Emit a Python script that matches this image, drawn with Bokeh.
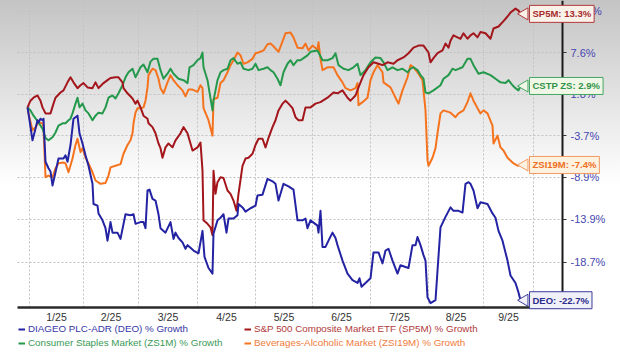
import math
from bokeh.plotting import figure
from bokeh.models import FixedTicker, Legend, LegendItem, Label, Range1d
from bokeh.embed import file_html
from bokeh.resources import INLINE

# x: chart time units (about 2.7 units per trading session); month boundaries
month_bounds = [0, 54, 109, 168, 226, 283, 341, 399, 454, 504]
month_labels = ["1/25", "2/25", "3/25", "4/25", "5/25", "6/25", "7/25", "8/25", "9/25"]
y_tick_pct = [-18.7, -13.9, -8.9, -3.7, 1.8, 7.6, 13.7]

# (time, % growth)
deo_pts = [(-2,0.0),(-1,-0.8),(3,-4.3),(6,-2.8),(8,-1.7),(9,-2.0),(11,-1.5),(13,-1.7),(14,-1.5),
    (16,-7.0),(19,-7.8),(21,-8.2),(23,-9.9),(26,-8.3),(29,-6.6),(34,-6.6),(36,-6.2),(38,-7.0),
    (41,-4.9),(44,-1.5),(48,-1.1),(50,-3.4),(53,-4.7),(56,-6.2),(59,-7.5),(63,-9.7),(64,-12.1),
    (68,-12.3),(69,-13.2),(73,-14.0),(76,-14.9),(78,-16.3),(81,-14.2),(83,-15.4),(88,-15.4),
    (91,-16.1),(96,-13.3),(101,-13.4),(104,-13.3),(106,-14.4),(111,-14.2),(114,-14.2),(116,-14.9),
    (118,-10.5),(120,-10.4),(123,-11.5),(126,-11.7),(129,-13.3),(131,-14.9),(136,-15.4),(141,-14.2),
    (144,-16.1),(146,-15.4),(149,-16.0),(153,-16.5),(156,-17.2),(158,-16.8),(161,-17.1),(164,-17.4),
    (169,-17.7),(173,-15.2),(175,-18.1),(179,-19.3),(183,-19.9),(184,-15.5),(188,-14.0),(191,-13.7),
    (194,-13.3),(197,-15.4),(199,-13.8),(204,-13.8),(208,-13.4),(209,-12.1),(213,-12.5),(216,-13.0),
    (221,-12.6),(226,-12.3),(228,-11.1),(233,-11.0),(238,-9.1),(243,-9.4),(246,-9.7),(249,-11.7),
    (254,-9.7),(259,-10.0),(264,-10.4),(268,-14.0),(273,-14.0),(276,-13.8),(278,-14.9),(281,-14.0),
    (288,-14.6),(289,-15.4),(291,-12.9),(293,-17.0),(296,-17.0),(299,-16.3),(303,-15.4),(306,-16.0),
    (308,-16.8),(313,-18.5),(318,-19.9),(323,-20.6),(328,-20.9),(330,-20.4),(332,-21.3),(336,-20.9),
    (341,-20.4),(344,-17.6),(349,-17.6),(353,-18.8),(356,-17.4),(359,-17.2),(363,-18.5),(368,-19.9),
    (371,-19.0),(376,-19.2),(379,-19.3),(383,-16.8),(386,-16.8),(388,-15.9),(391,-16.8),(394,-17.9),
    (396,-18.5),(398,-22.4),(401,-23.0),(406,-22.7),(408,-19.6),(411,-14.8),(416,-13.6),(421,-12.5),
    (424,-12.9),(429,-12.9),(433,-13.1),(436,-9.7),(439,-9.5),(441,-9.7),(444,-10.5),(448,-12.6),
    (451,-11.9),(458,-12.1),(463,-13.2),(466,-13.7),(469,-15.2),(473,-16.3),(478,-18.5),(481,-20.1),
    (486,-20.9),(489,-21.9),(491,-22.7)]

sp5m_pts = [(-2,0.0),(1,0.9),(4,1.3),(8,1.6),(11,0.9),(13,0.0),(16,-0.8),(21,-0.8),(24,0.5),(26,1.3),
    (31,2.0),(34,2.3),(38,3.4),(41,4.1),(44,3.4),(48,2.6),(51,3.0),(54,3.3),(58,2.7),(63,2.6),(66,3.4),
    (69,2.6),(74,3.3),(78,3.7),(81,4.0),(86,4.1),(89,4.1),(93,3.4),(94,2.6),(98,1.9),(103,1.2),(106,0.5),
    (108,0.9),(111,0.0),(114,-1.1),(118,-1.5),(119,-2.1),(123,-2.6),(126,-3.4),(129,-4.7),(131,-5.3),
    (133,-6.5),(136,-5.2),(139,-4.7),(143,-5.2),(146,-4.3),(151,-3.4),(154,-2.6),(158,-3.4),(163,-5.6),
    (168,-5.2),(171,-4.6),(173,-8.1),(174,-14.0),(178,-14.4),(181,-14.8),(183,-15.7),(184,-8.1),
    (186,-10.9),(188,-9.5),(191,-8.9),(194,-9.0),(198,-10.5),(201,-10.9),(204,-11.7),(207,-12.9),
    (209,-10.9),(213,-7.5),(216,-6.6),(219,-6.5),(223,-6.0),(226,-4.9),(229,-4.1),(233,-4.1),(236,-5.2),
    (239,-4.0),(243,-2.6),(246,-1.7),(249,-0.4),(253,0.5),(256,0.9),(259,0.5),(263,-0.1),(266,-1.3),
    (269,-1.7),(273,-1.7),(276,0.0),(281,0.0),(286,0.5),(291,0.7),(298,1.3),(304,2.0),(308,1.9),
    (313,2.3),(318,1.3),(321,0.9),(326,1.6),(329,2.7),(334,4.4),(339,5.5),(344,6.2),(349,6.0),(353,5.8),
    (358,6.2),(364,6.0),(368,6.5),(374,6.9),(379,7.5),(384,8.3),(389,8.6),(394,8.6),(399,7.6),(401,6.2),
    (404,6.8),(408,7.5),(413,7.9),(416,8.9),(419,8.3),(421,9.3),(424,10.1),(428,9.8),(431,9.6),
    (434,10.4),(438,9.6),(441,10.1),(444,10.4),(448,9.8),(451,10.6),(456,10.4),(461,9.6),(464,11.1),
    (469,11.4),(474,12.2),(478,12.9),(481,13.5),(486,14.1),(489,13.8),(491,13.3)]

cstp_pts = [(-2,0.0),(1,-0.4),(4,-1.1),(9,-2.0),(13,-2.8),(16,-4.0),(19,-4.3),(23,-3.9),(26,-3.3),
    (29,-2.4),(33,-2.1),(36,-2.1),(39,-1.7),(41,-1.5),(43,-0.8),(46,0.5),(48,1.3),(50,0.0),(53,0.5),
    (56,-0.4),(59,-0.8),(63,-1.7),(66,-1.1),(69,-0.7),(73,-0.8),(76,0.0),(79,1.3),(83,1.6),(86,1.2),
    (89,1.9),(93,3.0),(96,4.1),(99,4.8),(103,5.3),(106,4.1),(111,5.5),(114,5.9),(118,4.8),(121,6.3),
    (124,6.7),(128,6.7),(131,5.1),(134,3.9),(138,4.6),(141,5.3),(144,4.6),(149,3.9),(154,3.7),(158,3.3),
    (160,5.5),(164,5.8),(168,6.5),(171,6.8),(173,7.6),(174,5.5),(178,3.7),(183,-0.4),(184,0.9),(188,3.7),
    (191,4.8),(194,5.1),(198,5.3),(201,6.5),(204,6.8),(208,6.0),(211,6.2),(214,5.3),(219,5.1),(223,5.3),
    (226,6.0),(229,5.1),(234,5.3),(238,5.5),(241,5.1),(244,4.8),(248,3.9),(251,3.0),(254,4.8),(258,6.0),
    (261,6.5),(264,5.8),(268,6.5),(271,6.5),(274,6.8),(278,7.2),(281,7.7),(288,7.9),(293,6.5),(298,6.5),
    (303,6.8),(306,7.5),(309,5.8),(314,5.3),(319,5.1),(324,5.5),(328,6.0),(331,4.4),(336,5.1),(341,6.2),
    (346,6.9),(351,6.8),(354,6.2),(358,5.1),(363,5.5),(368,5.1),(373,5.3),(378,4.8),(381,5.3),(384,5.5),
    (388,5.1),(391,4.4),(394,3.9),(396,2.0),(399,1.9),(404,2.3),(411,3.0),(414,3.9),(419,4.4),(423,5.3),
    (426,5.1),(433,5.5),(438,6.7),(441,6.7),(444,5.8),(449,4.6),(454,4.8),(461,4.4),(466,3.9),(471,3.4),
    (476,3.3),(479,3.7),(483,3.0),(486,2.6),(489,2.3),(491,2.9)]

zsi19m_pts = [(-2,0.0),(-1,-0.8),(3,-3.0),(6,-2.6),(9,-2.0),(13,-2.1),(14,-2.6),(16,-8.9),(19,-8.7),
    (23,-8.9),(26,-7.8),(29,-7.2),(34,-7.1),(36,-7.2),(39,-8.3),(43,-6.6),(46,-4.9),(48,-4.1),(51,-5.8),
    (53,-5.3),(56,-6.5),(59,-7.2),(63,-8.3),(66,-9.3),(71,-9.7),(76,-9.6),(79,-8.7),(81,-7.7),(86,-7.5),
    (91,-7.3),(94,-6.0),(98,-4.9),(101,-4.3),(103,-3.4),(104,-2.1),(106,-0.7),(108,-0.1),(111,-0.1),
    (114,0.0),(116,0.9),(118,2.7),(119,4.4),(123,5.3),(126,5.1),(129,3.9),(131,2.6),(134,1.9),(138,3.4),
    (141,4.4),(144,3.7),(148,3.0),(153,2.3),(156,1.5),(159,2.4),(163,2.4),(168,2.1),(171,3.0),(173,2.6),
    (174,-0.1),(179,-1.7),(183,-3.7),(184,1.1),(188,1.3),(191,3.3),(194,3.7),(198,4.8),(201,5.8),
    (204,6.5),(208,7.6),(211,7.2),(214,6.0),(218,6.2),(223,6.7),(226,7.5),(229,7.6),(234,7.9),(238,8.8),
    (241,8.9),(244,8.5),(249,7.7),(253,9.2),(256,10.4),(261,10.5),(264,9.8),(268,8.3),(273,8.2),
    (276,8.9),(279,7.9),(283,8.6),(288,8.0),(289,9.1),(291,6.7),(293,5.1),(298,5.5),(304,5.5),(308,4.4),
    (313,3.4),(316,2.6),(321,2.3),(326,2.6),(328,3.3),(329,0.3),(333,0.7),(338,1.3),(341,3.7),(344,4.8),
    (348,5.8),(353,4.8),(354,3.4),(361,2.7),(366,1.3),(369,0.5),(373,2.3),(378,4.1),(381,5.8),(384,5.5),
    (389,4.6),(393,3.7),(396,-0.4),(398,-6.8),(399,-7.5),(403,-6.5),(406,-5.3),(408,-3.4),(411,-0.8),
    (414,-0.4),(421,-0.7),(426,-1.3),(429,-0.8),(434,-0.4),(438,0.7),(441,1.9),(444,0.9),(448,-0.1),
    (451,-0.8),(454,-0.4),(458,-0.8),(463,-2.4),(464,-4.7),(468,-3.7),(471,-5.2),(474,-5.6),(478,-6.5),
    (483,-7.1),(488,-7.5),(491,-7.4)]

# name, tag, line colour, legend text colour, tag fill, tag border, tag text colour, points
series = [
    ("Beverages-Alcoholic Market (ZSI19M) % Growth", "ZSI19M", "#f6731e", "#f07b3c", "#fdf1df", "#f39a63", "#ee6f22", zsi19m_pts),
    ("Consumer Staples Market (ZS1M) % Growth", "CSTP ZS", "#25994b", "#3a9a55", "#f1f7e6", "#43a862", "#2f9249", cstp_pts),
    ("S&P 500 Composite Market ETF (SP5M) % Growth", "SP5M", "#a3161c", "#b03a3a", "#faf1e8", "#b3383a", "#a82a2c", sp5m_pts),
    ("DIAGEO PLC-ADR (DEO) % Growth", "DEO", "#2323a3", "#3535a5", "#f0f0f9", "#3d3d9c", "#2c2c8c", deo_pts),
]

def factor(g):
    return 1.0 + g / 100.0

# visible chart window: time -12..533, growth factor 0.7655..1.1534 (log scale)
t_lo, t_hi = -12, 533
f_lo, f_hi = 0.7655, 1.1534

p = figure(width=620, height=356, output_backend="svg", toolbar_location=None,
           y_axis_type="log", y_axis_location="right",
           x_range=Range1d(-29, 591), y_range=Range1d(0.71705, f_hi),
           min_border=0, min_border_left=0, min_border_right=0,
           min_border_top=0, min_border_bottom=0)
p.border_fill_color = None
p.background_fill_color = None
p.outline_line_color = None
p.styles = {"background": "linear-gradient(to bottom, #c4c4c4 0px, #ffffff 185px)"}

# grids
p.xgrid.ticker = FixedTicker(ticks=month_bounds)
y_ticks = [round(factor(v), 6) for v in y_tick_pct]
p.ygrid.ticker = FixedTicker(ticks=y_ticks)
for g in (p.xgrid, p.ygrid):
    g.grid_line_color = "#c2c2c2"
    g.grid_line_dash = "2 2"
    g.grid_line_width = 1
for g in p.xgrid:
    if "cross_bounds" in g.properties():
        g.cross_bounds = (f_lo, f_hi)
for g in p.ygrid:
    if "cross_bounds" in g.properties():
        g.cross_bounds = (t_lo, t_hi)

# x axis
mids = [(month_bounds[i] + month_bounds[i + 1]) / 2 for i in range(len(month_labels))]
p.xaxis.fixed_location = f_lo
p.xaxis.bounds = (t_lo, t_hi)
p.xaxis.ticker = FixedTicker(ticks=mids)
p.xaxis.major_label_overrides = {m: lab for m, lab in zip(mids, month_labels)}
p.xaxis.major_tick_line_color = None
p.xaxis.minor_tick_line_color = None
p.xaxis.major_tick_out = 0
p.xaxis.major_label_standoff = 3
p.xaxis.axis_line_color = "#2a2a2a"
p.xaxis.axis_line_width = 2.5
p.xaxis.major_label_text_font = "Liberation Sans"
p.xaxis.major_label_text_font_size = "10.5px"
p.xaxis.major_label_text_color = "#333333"

# y axis (right)
p.yaxis.fixed_location = t_hi
p.yaxis.bounds = (f_lo, f_hi)
p.yaxis.ticker = FixedTicker(ticks=y_ticks)
p.yaxis.major_label_overrides = {t: f"{v}%" for t, v in zip(y_ticks, y_tick_pct)}
p.yaxis.minor_tick_line_color = None
p.yaxis.major_tick_in = 0
p.yaxis.major_tick_out = 4
p.yaxis.major_tick_line_color = "#333333"
p.yaxis.major_label_standoff = 4
p.yaxis.axis_line_color = "#1a1a1a"
p.yaxis.axis_line_width = 2
p.yaxis.major_label_text_font = "Liberation Sans"
p.yaxis.major_label_text_font_size = "11px"
p.yaxis.major_label_text_color = "#4646b0"

renderers = {}
for name, tag, col, tcol, tfill, tline, ttext, pts in series:
    xs = [a for a, b in pts]
    ys = [factor(b) for a, b in pts]
    r = p.line(xs, ys, line_color=col, line_width=2, line_join="round")
    renderers[tag] = (r, name, tcol)

# end-of-line tags
for name, tag, col, tcol, tfill, tline, ttext, pts in series:
    lx, lg = pts[-1]
    p.scatter([lx + 4], [factor(lg)], marker="triangle", size=12, angle=math.pi / 2,
              fill_color=tfill, line_color=tline, line_width=1)
    p.add_layout(Label(x=lx, y=factor(lg), text=f"{tag}: {lg}%", x_offset=9,
                       text_baseline="middle", text_align="left",
                       text_font="Liberation Sans", text_font_size="9.5px", text_font_style="bold",
                       text_color=ttext, background_fill_color=tfill,
                       border_line_color=tline, border_line_width=1, padding=3))

# legends (two rows, two columns, each label in its series colour)
legend_layout = [("DEO", 18, 22), ("SP5M", 244, 22), ("CSTP ZS", 18, 8), ("ZSI19M", 244, 8)]
for tag, lx, ly in legend_layout:
    r, name, tcol = renderers[tag]
    leg = Legend(items=[LegendItem(label=name, renderers=[r])], location=(lx, ly),
                 orientation="horizontal", label_text_color=tcol,
                 label_text_font="Liberation Sans", label_text_font_size="9.8px",
                 glyph_width=7, glyph_height=10, label_height=10, label_standoff=3,
                 padding=0, margin=0, spacing=0,
                 background_fill_alpha=0, border_line_alpha=0)
    p.add_layout(leg)

open("out.html", "w").write(file_html(p, INLINE))
